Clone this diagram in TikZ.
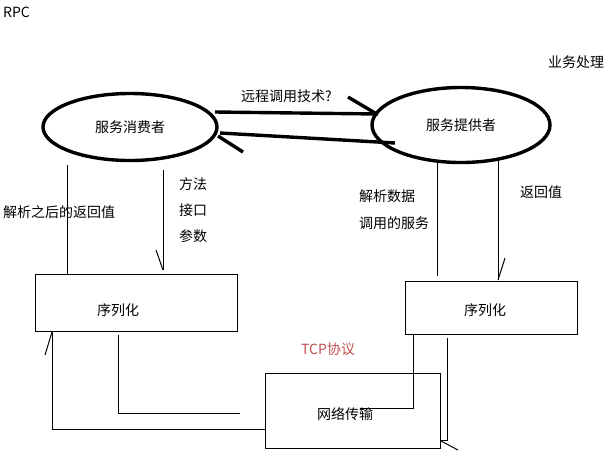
\documentclass[tikz,border=0pt]{standalone}
\usepackage{fontspec}
\setmainfont{Noto Sans CJK SC}
\tikzset{
  box/.style = {draw, thick, minimum width=#1, inner sep=0pt},
  oval/.style = {draw, ellipse, line width=3.4pt, inner sep=0pt},
  wire/.style = {line width=1pt},
  lbl/.style = {font=\fontsize{14}{16}\selectfont, inner sep=1pt, anchor=west},
}
\usetikzlibrary{shapes.geometric}
\definecolor{tcp}{HTML}{C0504D}
\begin{document}
\begin{tikzpicture}[x=1pt, y=-1pt]
\useasboundingbox (0,0) rectangle (615,451);

% services
\node (cons) [oval, minimum width=174pt, minimum height=67pt] at (130,127) {\fontsize{14}{16}\selectfont 服务消费者};
\node (prov) [oval, minimum width=178pt, minimum height=75pt] at (461,125) {\fontsize{14}{16}\selectfont 服务提供者};

% serializers and network
\node (serl) [box=202pt, minimum height=57pt] at (136,302.5) {};
\node at (118,310) {\fontsize{14}{16}\selectfont 序列化};
\node (serr) [box=172pt, minimum height=53pt] at (491,307.5) {};
\node at (485,310) {\fontsize{14}{16}\selectfont 序列化};
\node (net) [box=175pt, minimum height=75pt] at (352.5,410.5) {};
\node at (345,414) {\fontsize{14}{16}\selectfont 网络传输};

% remote call
\draw[line width=3.4pt] (215,112) -- (378,114);
\draw[line width=3.4pt] (348,97) -- (375,113);
\draw[line width=3.4pt] (220,133) -- (395,143);
\draw[line width=3.4pt] (218,136) -- (243,152);

% consumer side
\draw[wire] (serl.north -| 67,0) -- (67,165);
\draw[wire] (163,170) -- (163,270);
\draw[wire] (156,250) -- (163,270);
\draw[wire] (118,335) -- (118,413) -- (240,413);
\draw[wire] (net.west |- 0,429) -- (52,429) -- (52,332);
\draw[wire] (52,332) -- (45,355);

% provider side
\draw[wire] (437,160) -- (437,276);
\draw[wire] (498,158) -- (498,280);
\draw[wire] (505,258) -- (498,280);
\draw[wire] (360,408) -- (413,408) -- (413,334);
\draw[wire] (447,338) -- (447,440) -- (net.east |- 0,440);
\draw[wire] (441,441) -- (458,450);

% labels
\node[lbl] at (2,12) {RPC};
\node[lbl] at (547,62) {业务处理};
\node[lbl] at (240,96) {远程调用技术?};
\node[lbl] at (2,212) {解析之后的返回值};
\node[lbl] at (178,184) {方法};
\node[lbl] at (178,210) {接口};
\node[lbl] at (178,236) {参数};
\node[lbl] at (358,196) {解析数据};
\node[lbl] at (358,223) {调用的服务};
\node[lbl] at (519,192) {返回值};
\node[lbl, text=tcp] at (300,349) {TCP协议};
\end{tikzpicture}
\end{document}
